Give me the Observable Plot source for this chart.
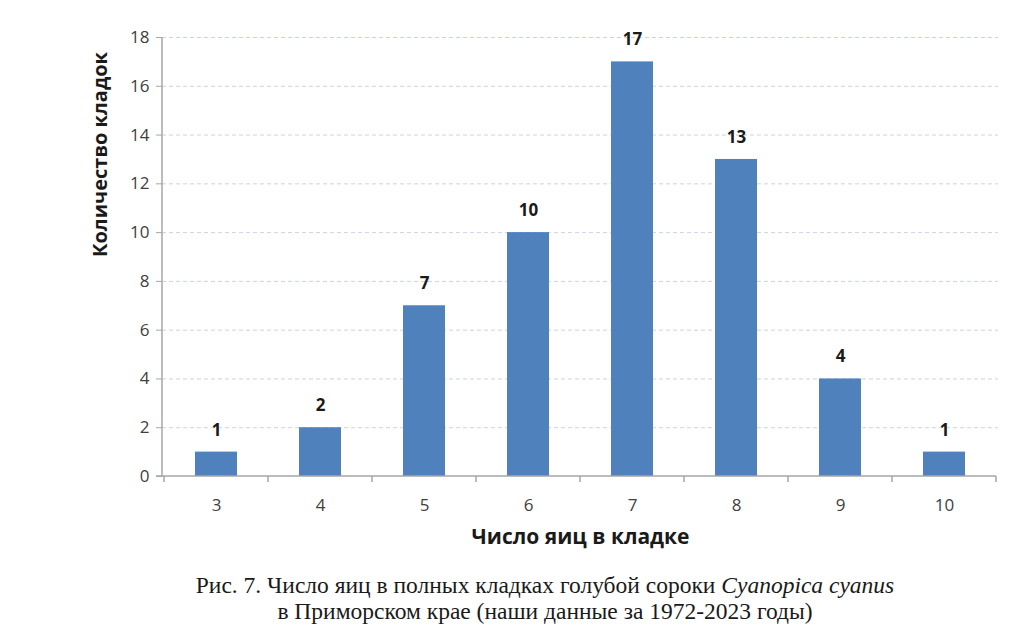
<!DOCTYPE html>
<html><head><meta charset="utf-8">
<script src="https://cdn.jsdelivr.net/npm/d3@7"></script>
<script src="https://cdn.jsdelivr.net/npm/@observablehq/plot@0.6"></script>
<style>
body{margin:0;background:#fff;}
#caption{font-family:"Liberation Serif","DejaVu Serif",serif;font-size:23.5px;color:#1a1a1a;text-align:center;line-height:26px;width:1024px;box-sizing:border-box;padding-left:66px;margin-top:12px;}
</style></head><body>
<div id="chart"></div>
<div id="caption">Рис. 7. Число яиц в полных кладках голубой сороки <i>Cyanopica cyanus</i><br>в Приморском крае (наши данные за 1972-2023 годы)</div>
<script>
const eggs = ["3","4","5","6","7","8","9","10"];
const clutches = [1, 2, 7, 10, 17, 13, 4, 1];
const yTicks = [0, 2, 4, 6, 8, 10, 12, 14, 16, 18];
const xTitle = "Число яиц в кладке";
const yTitle = "Количество кладок";

const data = eggs.map((e, i) => ({eggs: e, count: clutches[i]}));
const axisColor = "#a6a6a6";
const font = "'Open Sans', 'Liberation Sans', sans-serif";

function axisLines(index, scales, values, dimensions) {
  const {marginLeft, marginTop, width, height, marginRight, marginBottom} = dimensions;
  const x = scales.x;
  const step = x(eggs[1]) - x(eggs[0]);
  const bw = x.bandwidth ? x.bandwidth() : step * 0.4;
  const g = d3.create("svg:g").attr("stroke", axisColor).attr("stroke-width", 1.5);
  const y0 = height - marginBottom;
  g.append("line").attr("x1", marginLeft).attr("x2", marginLeft).attr("y1", marginTop).attr("y2", y0);
  const bounds = eggs.map(e => x(e) - (step - bw) / 2);
  bounds.push(x(eggs[eggs.length - 1]) + bw + (step - bw) / 2);
  for (const b of bounds) {
    g.append("line").attr("x1", b).attr("x2", b).attr("y1", y0).attr("y2", y0 + 6);
  }
  g.append("line").attr("x1", marginLeft - 6).attr("x2", bounds[bounds.length - 1]).attr("y1", y0).attr("y2", y0);
  return g.node();
}

const chart = Plot.plot({
  width: 1024,
  height: 560,
  marginTop: 37,
  marginBottom: 84,
  marginLeft: 162,
  marginRight: 26,
  style: {fontFamily: font, background: "#fff"},
  x: {domain: eggs, paddingInner: 0.6, paddingOuter: 0.3, axis: null},
  y: {domain: [0, 18], axis: null},
  marks: [
    Plot.gridY(yTicks.filter(t => t > 0), {stroke: "#c9d4e2", strokeOpacity: 1, strokeDasharray: "4,3"}),
    Plot.barY(data, {x: "eggs", y: "count", fill: "#4f81bd"}),
    Plot.text(data, {x: "eggs", y: "count", text: d => String(d.count), dy: -22, fontWeight: "bold", fontSize: 17, fill: "#1a1a1a"}),
    Plot.axisY({ticks: yTicks, tickSize: 6, tickPadding: 7, fontSize: 17, stroke: axisColor, fill: "#404040", label: null}),
    Plot.axisX({tickSize: 0, tickPadding: 22, fontSize: 17, fill: "#404040", label: null}),
    axisLines,
    Plot.text([xTitle], {frameAnchor: "bottom", dy: 67, fontWeight: "bold", fontSize: 21, fill: "#1a1a1a"}),
    Plot.text([yTitle], {frameAnchor: "left", dx: -62, rotate: -90, fontWeight: "bold", fontSize: 20, fill: "#1a1a1a"})
  ]
});
document.getElementById("chart").append(chart);
</script>
</body></html>
